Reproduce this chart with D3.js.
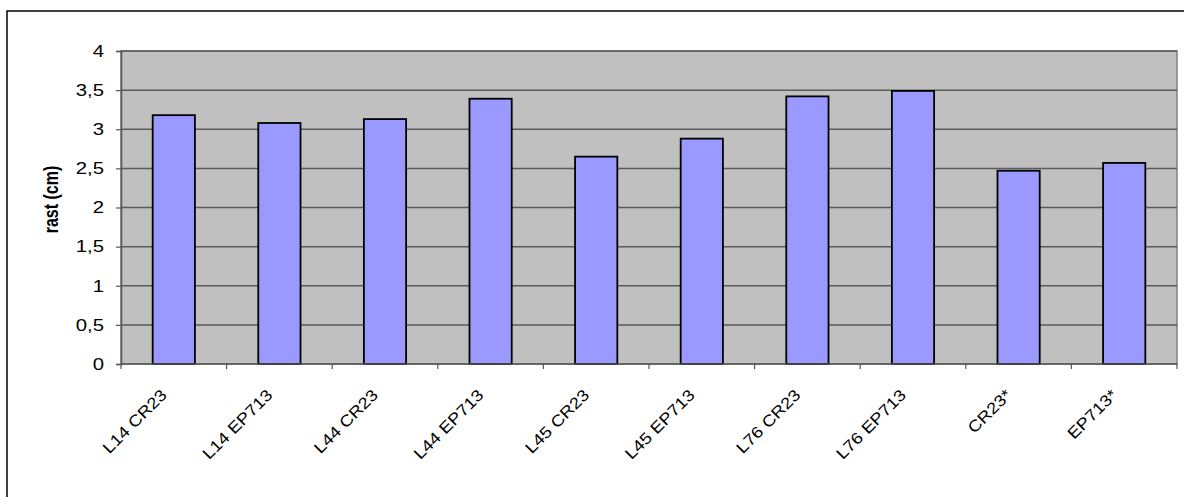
<!DOCTYPE html>
<html><head><meta charset="utf-8">
<script src="https://cdn.jsdelivr.net/npm/d3@7"></script>
<style>body{margin:0;background:#fff;}svg{display:block;font-family:Arial,"Liberation Sans",sans-serif;}</style>
</head><body><svg id="c" width="1184" height="497"></svg>
<script>
const categories = ["L14 CR23","L14 EP713","L44 CR23","L44 EP713","L45 CR23","L45 EP713","L76 CR23","L76 EP713","CR23*","EP713*"];
const values = [3.18,3.08,3.13,3.39,2.65,2.88,3.42,3.49,2.47,2.57];
const yTicks = [0,0.5,1,1.5,2,2.5,3,3.5,4];
const yLabel = "rast (cm)";

const SX = 1.27; // horizontal stretch of the original picture
const svg = d3.select("#c");
const L=121, R=1177, T=51, B=364;
svg.append("rect").attr("x",7).attr("y",11).attr("width",1190).attr("height",500).attr("fill","#fff").attr("stroke","#000").attr("stroke-width",1.5);

const x = d3.scaleBand().domain(categories).range([L,R]);
const y = d3.scaleLinear().domain([0,4]).range([B,T]);

svg.append("rect").attr("x",L).attr("y",T).attr("width",R-L).attr("height",B-T).attr("fill","#C0C0C0").attr("stroke","#808080").attr("stroke-width",1.5);

svg.append("g").selectAll("line").data(yTicks.filter(d=>d>0)).join("line")
  .attr("x1",L).attr("x2",R).attr("y1",d=>y(d)).attr("y2",d=>y(d))
  .attr("stroke","#5a5a5a").attr("stroke-width",1.5);

const bw = x.bandwidth()/2.5;
svg.append("g").selectAll("rect").data(values).join("rect")
  .attr("x",(d,i)=>x(categories[i])+x.bandwidth()/2-bw/2)
  .attr("width",bw)
  .attr("y",d=>y(d)).attr("height",d=>B-y(d))
  .attr("fill","#9999FF").attr("stroke","#000").attr("stroke-width",1.8);

// y axis
const ya = svg.append("g").attr("transform",`translate(${L},0)`)
  .call(d3.axisLeft(y).tickValues(yTicks).tickSize(5).tickFormat(""));
ya.select(".domain").attr("stroke","#555").attr("stroke-width",1.5);
ya.selectAll(".tick line").attr("stroke","#555").attr("stroke-width",1.2);
svg.append("g").selectAll("text").data(yTicks).join("text")
  .attr("transform",d=>`translate(104,${y(d)}) scale(${SX},1)`)
  .attr("dy","0.36em").attr("text-anchor","end").attr("font-size",16).attr("fill","#000")
  .text(d=>String(d).replace(".",","));

// x axis
svg.append("line").attr("x1",L).attr("x2",R).attr("y1",B).attr("y2",B).attr("stroke","#555").attr("stroke-width",1.5);
const bounds = d3.range(categories.length+1).map(i=>L + i*x.step());
svg.append("g").selectAll("line").data(bounds).join("line")
  .attr("x1",d=>d).attr("x2",d=>d).attr("y1",B).attr("y2",B+5).attr("stroke","#555").attr("stroke-width",1.2);

svg.append("g").selectAll("text").data(categories).join("text")
  .attr("transform",d=>`translate(${x(d)+x.bandwidth()/2-6},${B+32}) rotate(-45) scale(1.15,1)`)
  .attr("text-anchor","end").attr("font-size",16).attr("fill","#000").text(d=>d);

svg.append("text").attr("transform",`translate(58,${(T+B)/2-8}) scale(${SX},1) rotate(-90)`)
  .attr("text-anchor","middle").attr("font-size",16).attr("font-weight","bold").text(yLabel);
</script></body></html>
